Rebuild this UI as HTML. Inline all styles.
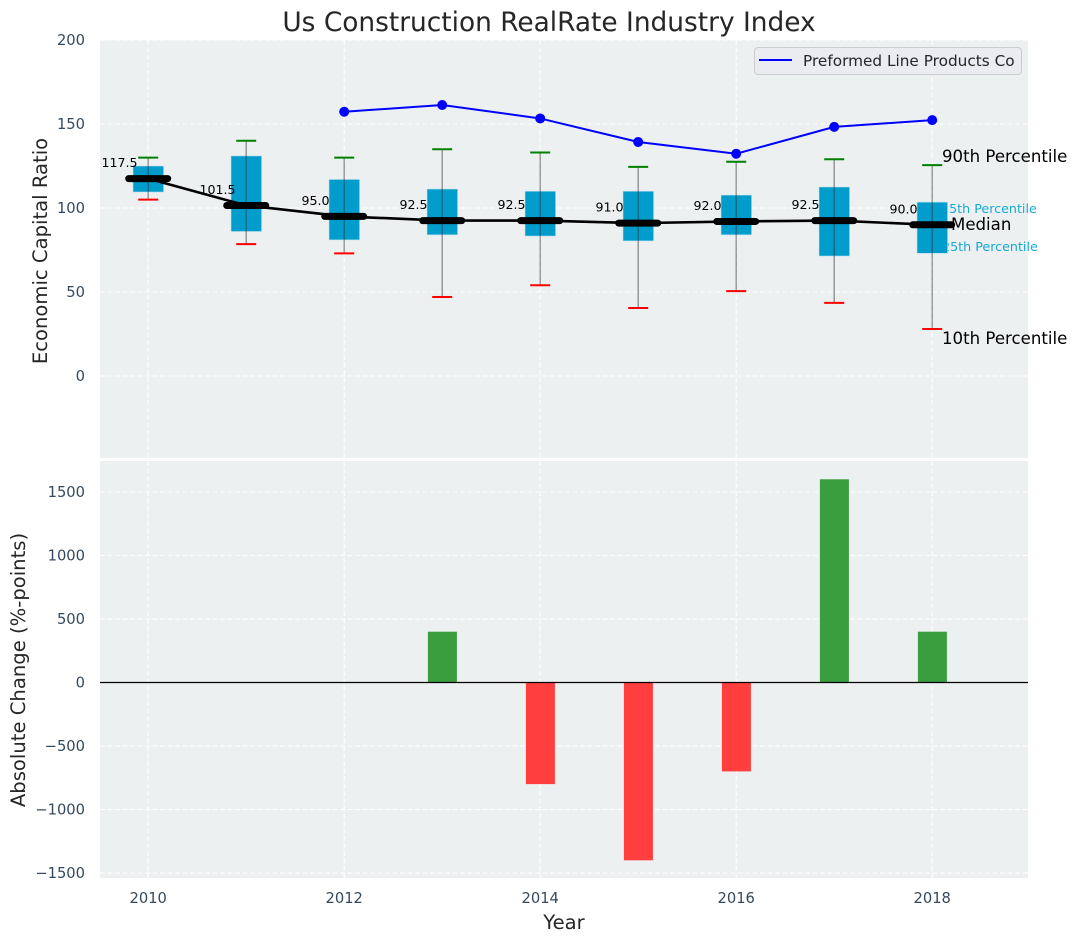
<!DOCTYPE html>
<html>
<head>
<meta charset="utf-8">
<title>Us Construction RealRate Industry Index</title>
<style>
html,body{margin:0;padding:0;background:#fff;}
svg{display:block;font-family:"DejaVu Sans","Liberation Sans",sans-serif;}
</style>
</head>
<body>
<svg id="chart" xmlns="http://www.w3.org/2000/svg" width="1077" height="942" viewBox="0 0 1077 942">
<text x="549" y="31" font-size="26.4" fill="#262626" text-anchor="middle">Us Construction RealRate Industry Index</text>
<rect x="100" y="40" width="928" height="418" fill="#ecf0f1"/>
<rect x="100" y="461" width="928" height="417" fill="#ecf0f1"/>
<g id="grid"></g>
<g id="ticks"></g>
<text transform="translate(47 251) rotate(-90)" font-size="19.6" fill="#262626" text-anchor="middle">Economic Capital Ratio</text>
<text transform="translate(25 670) rotate(-90)" font-size="19.6" fill="#262626" text-anchor="middle">Absolute Change (%-points)</text>
<text x="564" y="929" font-size="19.6" fill="#262626" text-anchor="middle">Year</text>
<g id="annot-under">
<text x="941" y="213" font-size="12.7" fill="#00a0d0" fill-opacity="0.9" id="a75">75th Percentile</text>
<text x="942" y="251" font-size="12.7" fill="#00a0d0" fill-opacity="0.9" id="a25">25th Percentile</text>
</g>
<g id="top-marks"></g>
<g id="bars"></g>
<line x1="100" x2="1028" y1="682.5" y2="682.5" stroke="#000" stroke-width="1.3"/>
<g>
<text x="942" y="162" font-size="16.6" fill="#000">90th Percentile</text>
<text x="951" y="230" font-size="16.6" fill="#000">Median</text>
<text x="942" y="344" font-size="16.6" fill="#000">10th Percentile</text>
</g>
<g>
<rect x="754.5" y="47.5" width="267" height="27" rx="3.5" fill="#eaecf1" stroke="#cccccc" stroke-width="1"/>
<line x1="759" x2="792" y1="60" y2="60" stroke="#0000ff" stroke-width="2"/>
<text x="803" y="66" font-size="15.3" fill="#262626">Preformed Line Products Co</text>
</g>
</svg>
<script>
const years = [2010, 2011, 2012, 2013, 2014, 2015, 2016, 2017, 2018];
const p90 = [130, 140, 130, 135, 133, 124.5, 127.5, 129, 125.5];
const p75 = [125, 131, 117, 111.3, 110, 110, 107.7, 112.5, 103.5];
const median = [117.5, 101.5, 95, 92.5, 92.5, 91, 92, 92.5, 90];
const p25 = [109.5, 86, 81, 84, 83.3, 80.4, 84, 71.4, 73];
const p10 = [105, 78.5, 73, 47, 54, 40.5, 50.5, 43.5, 28];
const company = [null, null, 157.3, 161.3, 153.3, 139.3, 132.3, 148.3, 152.3];
const change = [0, 0, 0, 400, -800, -1400, -700, 1600, 400];
const xTickLabels = [2010, 2012, 2014, 2016, 2018];
const topTickLabels = [0, 50, 100, 150, 200];
const bottomTickLabels = [-1500, -1000, -500, 0, 500, 1000, 1500];

const NS = 'http://www.w3.org/2000/svg';
function x(v) { return 148.2 + (v - 2010) * 98; }
function yTop(v) { return 376 - v * 1.68; }
function yBot(v) { return 682.5 - v * 0.127; }
function make(tag, parent, props) {
  const el = document.createElementNS(NS, tag);
  for (const k in props) el.setAttribute(k, props[k]);
  parent.appendChild(el);
  return el;
}
const grid = document.getElementById('grid');
const ticks = document.getElementById('ticks');
const marks = document.getElementById('top-marks');
const bars = document.getElementById('bars');
const gridStyle = { stroke: '#ffffff', 'stroke-width': 1.1, 'stroke-dasharray': '5 2.5' };

xTickLabels.forEach(function (v) {
  [[40, 458], [461, 878]].forEach(function (r) {
    const g = make('line', grid, Object.assign({ x1: x(v), x2: x(v), y1: r[0], y2: r[1] }, gridStyle));
    
    
  });
  const t = make('text', ticks, { x: x(v), y: 903, 'font-size': 14.7, fill: '#34495e', 'text-anchor': 'middle' });
  t.textContent = v;
  
  
});
topTickLabels.forEach(function (v) {
  const g = make('line', grid, Object.assign({ x1: 100, x2: 1028, y1: yTop(v), y2: yTop(v) }, gridStyle));
  
  
  const t = make('text', ticks, { x: 85, y: yTop(v) + 5, 'font-size': 14.7, fill: '#34495e', 'text-anchor': 'end' });
  t.textContent = v;
  
  
});
bottomTickLabels.forEach(function (v) {
  const g = make('line', grid, Object.assign({ x1: 100, x2: 1028, y1: yBot(v), y2: yBot(v) }, gridStyle));
  
  
  const t = make('text', ticks, { x: 85, y: yBot(v) + 5, 'font-size': 14.7, fill: '#34495e', 'text-anchor': 'end' });
  t.textContent = String(v).replace('-', '\u2212');
  
  
});

years.forEach(function (yr, i) {
  const cx = x(yr);
  const box = make('rect', marks, { x: cx - 15.2, y: yTop(p75[i]), width: 30.6, height: yTop(p25[i]) - yTop(p75[i]), fill: '#009ccc', stroke: '#bfe3ef', 'stroke-width': 0.6 });
  
  
  const w = make('line', marks, { x1: cx, x2: cx, y1: yTop(p90[i]), y2: yTop(p10[i]), stroke: '#333333', 'stroke-opacity': 0.5, 'stroke-width': 1.4 });
  
  
  const hi = make('line', marks, { x1: cx - 10, x2: cx + 10, y1: yTop(p90[i]), y2: yTop(p90[i]), stroke: '#008000', 'stroke-width': 2 });
  
  
  const lo = make('line', marks, { x1: cx - 10, x2: cx + 10, y1: yTop(p10[i]), y2: yTop(p10[i]), stroke: '#ff0000', 'stroke-width': 2 });
  
  
});

const medianPath = make('polyline', marks, { points: years.map(function (yr, i) { return x(yr) + ',' + yTop(median[i]); }).join(' '), fill: 'none', stroke: '#000', 'stroke-width': 2.6 });



years.forEach(function (yr, i) {
  const cx = x(yr);
  const m = make('line', marks, { x1: cx - 19.5, x2: cx + 19.5, y1: yTop(median[i]), y2: yTop(median[i]), stroke: '#000', 'stroke-width': 7, 'stroke-linecap': 'round' });
  
  
  const t = make('text', marks, { x: cx - 28.7, y: yTop(median[i]) - 11.5, 'font-size': 12.6, fill: '#000', 'text-anchor': 'middle' });
  t.textContent = median[i].toFixed(1);
  
  
});

const companyPts = years.map(function (yr, i) { return company[i] === null ? null : [x(yr), yTop(company[i])]; }).filter(Boolean);
const companyLine = make('polyline', marks, { points: companyPts.map(function (p) { return p.join(','); }).join(' '), fill: 'none', stroke: '#0000ff', 'stroke-width': 2 });


companyPts.forEach(function (p) {
  const c = make('circle', marks, { cx: p[0], cy: p[1], r: 5, fill: '#0000ff' });
  
  
});

years.forEach(function (yr, i) {
  if (change[i] === 0) return;
  const top = Math.min(yBot(change[i]), yBot(0));
  const h = Math.abs(yBot(change[i]) - yBot(0));
  const b = make('rect', bars, { x: x(yr) - 14.3, y: top, width: 29, height: h, fill: change[i] > 0 ? '#3a9e3e' : '#ff3e3e' });
  
  
});
</script>
</body>
</html>
